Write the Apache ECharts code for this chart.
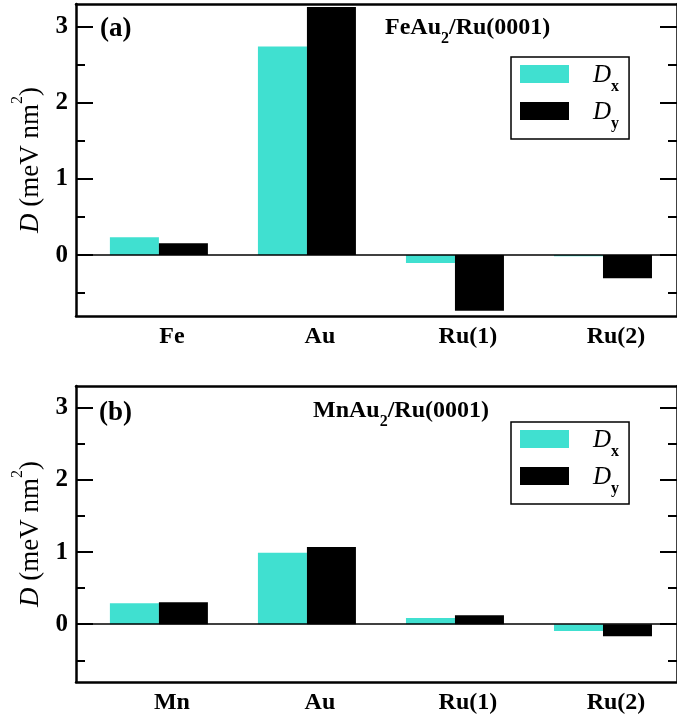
<!DOCTYPE html>
<html>
<head>
<meta charset="utf-8">
<script src="https://cdn.jsdelivr.net/npm/echarts@6/dist/echarts.min.js"></script>
<style>
html,body{margin:0;padding:0;background:#fff;}
#chart{width:677px;height:717px;}
</style>
</head>
<body>
<div id="chart"></div>
<script>
// ---- data ----
const categoriesA = ['Fe', 'Au', 'Ru(1)', 'Ru(2)'];
const categoriesB = ['Mn', 'Au', 'Ru(1)', 'Ru(2)'];
const positions = [1, 2, 3, 4];
const dxA = [0.235, 2.74, -0.105, -0.015];
const dyA = [0.155, 3.26, -0.73, -0.305];
const dxB = [0.29, 0.99, 0.087, -0.093];
const dyB = [0.305, 1.07, 0.125, -0.166];
const yMajorTicks = [0, 1, 2, 3];
const yMinorTicks = [-0.5, 0.5, 1.5, 2.5];
const seriesNames = ['Dx', 'Dy'];
const panelLabels = ['(a)', '(b)'];
const panelTitles = [['FeAu', '2', '/Ru(0001)'], ['MnAu', '2', '/Ru(0001)']];

const SERIF = "'Liberation Serif', 'Times New Roman', 'DejaVu Serif', serif";
const TEAL = '#40E0D0';
const BLACK = '#000000';

const grids = [
  {left: 76, right: -8, top: 4, height: 312},
  {left: 76, right: -8, top: 386, height: 296}
];

function pairs(vals) { return positions.map((p, i) => [p, vals[i]]); }

const xAxes = [], yAxes = [];
[categoriesA, categoriesB].forEach((cats, gi) => {
  xAxes.push({
    gridIndex: gi, type: 'value', min: 0.44, max: 4.5, position: 'bottom',
    axisLine: {show: true, onZero: false, lineStyle: {color: '#000', width: 2.5}},
    axisTick: {show: false},
    splitLine: {show: false},
    axisLabel: {
      show: true, customValues: positions, margin: 9,
      formatter: v => cats[Math.round(v) - 1],
      fontFamily: SERIF, fontWeight: 'bold', fontSize: 24, color: '#000',
      padding: [0, 0, 0, 26]
    }
  });
  xAxes.push({
    gridIndex: gi, type: 'value', min: 0.44, max: 4.5, position: 'top',
    axisLine: {show: true, onZero: false, lineStyle: {color: '#000', width: 2.5}},
    axisTick: {show: false}, axisLabel: {show: false}, splitLine: {show: false}
  });
  const base = {gridIndex: gi, type: 'value', min: -0.8, max: 3.3, splitLine: {show: false}};
  // left major
  yAxes.push(Object.assign({}, base, {
    position: 'left',
    axisLine: {show: true, onZero: false, lineStyle: {color: '#000', width: 2.5}},
    axisTick: {show: true, inside: true, length: 17, customValues: yMajorTicks, lineStyle: {color: '#000', width: 2}},
    axisLabel: {show: true, customValues: yMajorTicks, margin: 8, fontFamily: SERIF, fontWeight: 'bold', fontSize: 25, color: '#000'},
    name: '{i|D}{r| (meV nm}{s|2}{r|)}',
    nameLocation: 'middle', nameRotate: 90, nameGap: 26,
    nameTextStyle: {
      rich: {
        i: {fontFamily: SERIF, fontStyle: 'italic', fontSize: 27, color: '#000', lineHeight: 28, verticalAlign: 'top', padding: [8, 0, 0, 0]},
        r: {fontFamily: SERIF, fontSize: 27, color: '#000', lineHeight: 28, verticalAlign: 'top', padding: [8, 0, 0, 0]},
        s: {fontFamily: SERIF, fontSize: 16, color: '#000', lineHeight: 12, verticalAlign: 'top'}
      }
    }
  }));
  // left minor
  yAxes.push(Object.assign({}, base, {
    position: 'left',
    axisLine: {show: false, onZero: false},
    axisTick: {show: true, inside: true, length: 9, customValues: yMinorTicks, lineStyle: {color: '#000', width: 2}},
    axisLabel: {show: false}
  }));
  // right major
  yAxes.push(Object.assign({}, base, {
    position: 'right',
    axisLine: {show: true, onZero: false, lineStyle: {color: '#000', width: 2.5}},
    axisTick: {show: true, inside: true, length: 17, customValues: yMajorTicks, lineStyle: {color: '#000', width: 2}},
    axisLabel: {show: false}
  }));
  // right minor
  yAxes.push(Object.assign({}, base, {
    position: 'right',
    axisLine: {show: false, onZero: false},
    axisTick: {show: true, inside: true, length: 9, customValues: yMinorTicks, lineStyle: {color: '#000', width: 2}},
    axisLabel: {show: false}
  }));
});

function barSeries(name, vals, gi, color, withZero) {
  const s = {
    type: 'bar', name: name, xAxisIndex: gi * 2, yAxisIndex: gi * 4,
    data: pairs(vals), barWidth: 49, barGap: '0%',
    itemStyle: {color: color}, silent: true
  };
  if (withZero) {
    s.markLine = {
      silent: true, symbol: 'none', label: {show: false},
      lineStyle: {color: '#000', width: 1.5, type: 'solid'},
      data: [{yAxis: 0}]
    };
  }
  return s;
}

const series = [
  barSeries(seriesNames[0], dxA, 0, TEAL, true),
  barSeries(seriesNames[1], dyA, 0, BLACK, false),
  barSeries(seriesNames[0], dxB, 1, TEAL, true),
  barSeries(seriesNames[1], dyB, 1, BLACK, false)
];

const legendRich = {
  g: {width: 19, fontSize: 12, lineHeight: 12, verticalAlign: 'top'},
  d: {fontFamily: SERIF, fontStyle: 'italic', fontSize: 25, color: '#000', lineHeight: 24, verticalAlign: 'top', padding: [1, 0, 0, 0]},
  s: {fontFamily: SERIF, fontWeight: 'bold', fontSize: 16, color: '#000', lineHeight: 15, verticalAlign: 'top', padding: [17, 0, 0, 0]}
};
function makeLegend(top) {
  return {
    orient: 'vertical', left: 511, top: top,
    padding: [5, 10, 7, 9], itemWidth: 49, itemHeight: 18, itemGap: 4,
    borderColor: '#000', borderWidth: 1.5, backgroundColor: '#fff',
    icon: 'rect', data: seriesNames,
    itemStyle: {borderWidth: 0},
    formatter: n => '{g| }{d|D}{s|' + (n === 'Dx' ? 'x' : 'y') + '}',
    textStyle: {rich: legendRich}
  };
}

const titleRich = {
  b: {fontFamily: SERIF, fontWeight: 'bold', fontSize: 24, color: '#000', lineHeight: 24, verticalAlign: 'top'},
  u: {fontFamily: SERIF, fontWeight: 'bold', fontSize: 16, color: '#000', lineHeight: 16, verticalAlign: 'top', padding: [15, 0, 0, 0]},
  p: {fontFamily: SERIF, fontWeight: 'bold', fontSize: 27, color: '#000', lineHeight: 27}
};
function richTitle(parts) { return '{b|' + parts[0] + '}{u|' + parts[1] + '}{b|' + parts[2] + '}'; }

const option = {
  animation: false,
  backgroundColor: '#fff',
  grid: grids,
  xAxis: xAxes,
  yAxis: yAxes,
  legend: [makeLegend(57), makeLegend(422)],
  title: [
    {text: '{p|' + panelLabels[0] + '}', left: 100, top: 16, padding: 0, textStyle: {rich: titleRich}},
    {text: richTitle(panelTitles[0]), left: 385, top: 16, padding: 0, textStyle: {rich: titleRich}},
    {text: '{p|' + panelLabels[1] + '}', left: 99, top: 400, padding: 0, textStyle: {rich: titleRich}},
    {text: richTitle(panelTitles[1]), left: 313, top: 399, padding: 0, textStyle: {rich: titleRich}}
  ],
  series: series
};

const chart = echarts.init(document.getElementById('chart'), null, {renderer: 'canvas'});
chart.setOption(option);
</script>
</body>
</html>
